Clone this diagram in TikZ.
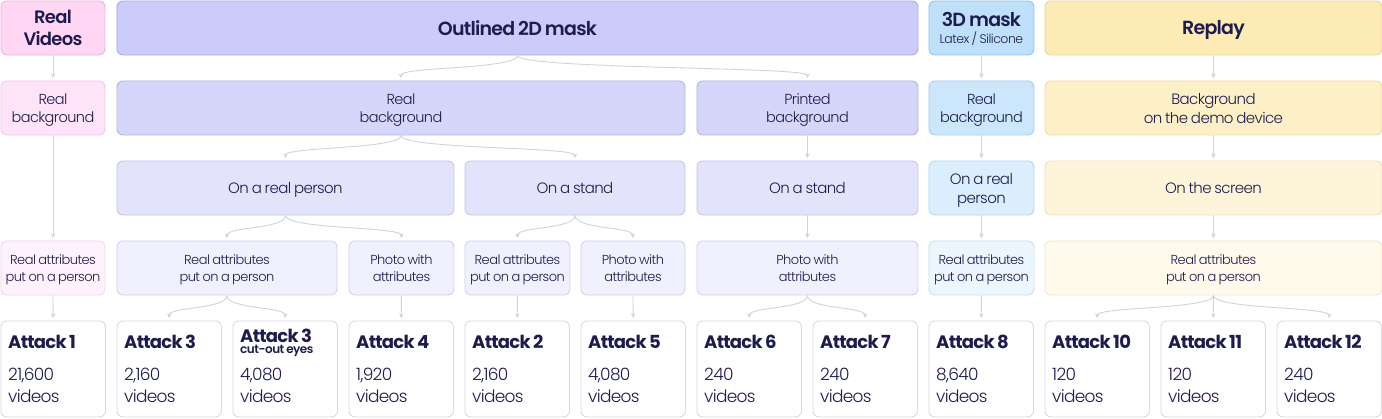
\documentclass[tikz,border=0pt]{standalone}
\usepackage{fontspec}
\setmainfont{Poppins Light}[LetterSpace=-4,WordSpace=0.8]
\newfontfamily\semib{Poppins SemiBold}[LetterSpace=-4,WordSpace=0.8]
\newfontfamily\boldf{Poppins Bold}[LetterSpace=-4,WordSpace=0.8]
\usetikzlibrary{arrows.meta}
\definecolor{ink}{HTML}{1C1C4E}
\definecolor{lineg}{HTML}{D2D2DD}
\definecolor{aboxd}{HTML}{DADAE3}
\definecolor{pinkA}{HTML}{FFD6F4}\definecolor{pinkAd}{HTML}{E5B6DA}
\definecolor{pinkB}{HTML}{FFE3F8}\definecolor{pinkBd}{HTML}{EEC9E6}
\definecolor{pinkD}{HTML}{FFF2FC}\definecolor{pinkDd}{HTML}{F0D8EB}
\definecolor{lavA}{HTML}{CCCCFA}\definecolor{lavAd}{HTML}{A9A9E3}
\definecolor{lavB}{HTML}{D6D6FB}\definecolor{lavBd}{HTML}{B4B4E6}
\definecolor{lavC}{HTML}{E3E3FC}\definecolor{lavCd}{HTML}{C4C4EA}
\definecolor{lavD}{HTML}{F0F0FE}\definecolor{lavDd}{HTML}{D2D2EE}
\definecolor{blueA}{HTML}{BFE0FB}\definecolor{blueAd}{HTML}{94C2EA}
\definecolor{blueB}{HTML}{CCE7FC}\definecolor{blueBd}{HTML}{A5CDEE}
\definecolor{blueC}{HTML}{DAEEFD}\definecolor{blueCd}{HTML}{B5D6F0}
\definecolor{blueD}{HTML}{EBF6FF}\definecolor{blueDd}{HTML}{C9E0F3}
\definecolor{yelA}{HTML}{FDEBB5}\definecolor{yelAd}{HTML}{EAD69F}
\definecolor{yelB}{HTML}{FDEFC6}\definecolor{yelBd}{HTML}{EEDCAE}
\definecolor{yelC}{HTML}{FEF4DA}\definecolor{yelCd}{HTML}{EFE1BD}
\definecolor{yelD}{HTML}{FFFAEC}\definecolor{yelDd}{HTML}{F1E7CC}
\tikzset{
  box/.style={rounded corners=6pt, line width=0.9pt, inner sep=0pt, anchor=north west, align=center, text=ink, text depth=0pt},
  abox/.style={box, fill=white, draw=aboxd},
  conn/.style={draw=lineg, line width=0.9pt, -{Stealth[length=4.5pt,width=4.5pt]}, shorten >=2.5pt},
  atitle/.style={text=ink, inner sep=0pt, anchor=base west, font=\boldf\fontsize{18}{20}\selectfont},
  anum/.style={text=ink, inner sep=0pt, anchor=base west, font=\fontsize{17}{20}\selectfont},
  fh/.style={font=\semib\fontsize{19}{22}\selectfont},
  f2/.style={font=\fontsize{14.5}{17.5}\selectfont},
  f3/.style={font=\fontsize{15}{19}\selectfont},
  f4/.style={font=\fontsize{13}{16.5}\selectfont},
}
\newcommand\bx[9]{\node[box,fill=#6,draw=#7,#8,minimum width=#4pt-1pt,minimum height=#5pt-1pt] (#1) at (#2.5,#3.5) {#9};}
\newcommand\atk[4]{%
  \node[abox,minimum width=104.5pt,minimum height=96pt] (#1) at (#2.5,320.5) {};
  \node[atitle] (#1t) at (#2+8,348) {#3};
  \node[anum] (#1n) at (#2+8,380) {#4};
  \node[anum] (#1v) at (#2+8,402) {videos};}
\begin{document}
\begin{tikzpicture}[x=1pt,y=-1pt]
\useasboundingbox[fill=white] (0,0) rectangle (1382,418);
% row 1
\bx{rv}{0}{0}{105}{55}{pinkA}{pinkAd}{font=\semib\fontsize{18}{21.5}\selectfont}{Real\\Videos}
\bx{o2d}{116}{0}{802}{55}{lavA}{lavAd}{fh}{Outlined 2D mask}
\bx{m3d}{928}{0}{106}{55}{blueA}{blueAd}{font=\semib\fontsize{19}{16.5}\selectfont}{3D mask\\{\normalfont\fontsize{12.5}{14}\selectfont Latex / Silicone}}
\bx{rep}{1044}{0}{338}{55}{yelA}{yelAd}{fh}{Replay}
% row 2
\bx{rbA}{0}{80}{105}{55}{pinkB}{pinkBd}{f2}{Real\\background}
\bx{rb2}{116}{80}{569}{55}{lavB}{lavBd}{f2}{Real\\background}
\bx{pb}{696}{80}{222}{55}{lavB}{lavBd}{f2}{Printed\\background}
\bx{rb3}{928}{80}{106}{55}{blueB}{blueBd}{f2}{Real\\background}
\bx{bg}{1044}{80}{338}{55}{yelB}{yelBd}{font=\fontsize{15}{19}\selectfont}{Background\\on the demo device}
% row 3
\bx{orp}{116}{160}{338}{55}{lavC}{lavCd}{f3}{On a real person}
\bx{os1}{464}{160}{221}{55}{lavC}{lavCd}{f3}{On a stand}
\bx{os2}{696}{160}{222}{55}{lavC}{lavCd}{f3}{On a stand}
\bx{orp3}{928}{160}{106}{55}{blueC}{blueCd}{f3}{On a real\\person}
\bx{scr}{1044}{160}{338}{55}{yelC}{yelCd}{f3}{On the screen}
% row 4
\bx{ra1}{0}{240}{105}{55}{pinkD}{pinkDd}{f4}{Real attributes\\put on a person}
\bx{ra2}{116}{240}{221}{55}{lavD}{lavDd}{f4}{Real attributes\\put on a person}
\bx{pw1}{348}{240}{106}{55}{lavD}{lavDd}{f4}{Photo with\\attributes}
\bx{ra3}{464}{240}{106}{55}{lavD}{lavDd}{f4}{Real attributes\\put on a person}
\bx{pw2}{580}{240}{105}{55}{lavD}{lavDd}{f4}{Photo with\\attributes}
\bx{pw3}{696}{240}{222}{55}{lavD}{lavDd}{f4}{Photo with\\attributes}
\bx{ra4}{928}{240}{106}{55}{blueD}{blueDd}{f4}{Real attributes\\put on a person}
\bx{ra5}{1044}{240}{338}{55}{yelD}{yelDd}{f4}{Real attributes\\put on a person}
% row 5
\atk{a1}{0}{Attack 1}{21,600}
\node[abox,minimum width=104.5pt,minimum height=96pt] (a3) at (116.5,320.5) {};
\node[atitle] (a3t) at (124,348) {Attack 3};
\node[anum] (a3n) at (124,380) {2,160};
\node[anum] (a3v) at (124,402) {videos};
\node[abox,minimum width=104.5pt,minimum height=96pt] (a3c) at (232.5,320.5) {};
\node[atitle] (a3ct) at (240,342) {Attack 3};
\node[atitle,font=\semib\fontsize{12}{13}\selectfont] (a3cs) at (240,353.5) {cut-out eyes};
\node[anum] (a3cn) at (240,380) {4,080};
\node[anum] (a3cv) at (240,402) {videos};
\atk{a4}{348}{Attack 4}{1,920}
\atk{a2}{464}{Attack 2}{2,160}
\atk{a5}{580}{Attack 5}{4,080}
\atk{a6}{696}{Attack 6}{240}
\atk{a7}{812}{Attack 7}{240}
\atk{a8}{928}{Attack 8}{8,640}
\atk{a10}{1044}{Attack 10}{120}
\atk{a11}{1160}{Attack 11}{120}
\atk{a12}{1276}{Attack 12}{240}
% connectors
\draw[conn] (rv.south) -- (rbA.north);
\draw[conn] (rbA.south) -- (ra1.north);
\draw[conn] (ra1.south) -- (a1.north);
\draw[conn] (o2d.south) .. controls +(0,14) and +(0,-14) .. (rb2.north);
\draw[conn] (o2d.south) .. controls +(0,14) and +(0,-14) .. (pb.north);
\draw[conn] (rb2.south) .. controls +(0,14) and +(0,-14) .. (orp.north);
\draw[conn] (rb2.south) .. controls +(0,14) and +(0,-14) .. (os1.north);
\draw[conn] (pb.south) -- (os2.north);
\draw[conn] (orp.south) .. controls +(0,14) and +(0,-14) .. (ra2.north);
\draw[conn] (orp.south) .. controls +(0,14) and +(0,-14) .. (pw1.north);
\draw[conn] (os1.south) .. controls +(0,14) and +(0,-14) .. (ra3.north);
\draw[conn] (os1.south) .. controls +(0,14) and +(0,-14) .. (pw2.north);
\draw[conn] (os2.south) -- (pw3.north);
\draw[conn] (ra2.south) .. controls +(0,14) and +(0,-14) .. (a3.north);
\draw[conn] (ra2.south) .. controls +(0,14) and +(0,-14) .. (a3c.north);
\draw[conn] (pw1.south) -- (a4.north);
\draw[conn] (ra3.south) -- (a2.north);
\draw[conn] (pw2.south) -- (a5.north);
\draw[conn] (pw3.south) .. controls +(0,14) and +(0,-14) .. (a6.north);
\draw[conn] (pw3.south) .. controls +(0,14) and +(0,-14) .. (a7.north);
\draw[conn] (m3d.south) -- (rb3.north);
\draw[conn] (rb3.south) -- (orp3.north);
\draw[conn] (orp3.south) -- (ra4.north);
\draw[conn] (ra4.south) -- (a8.north);
\draw[conn] (rep.south) -- (bg.north);
\draw[conn] (bg.south) -- (scr.north);
\draw[conn] (scr.south) -- (ra5.north);
\draw[conn] (ra5.south) .. controls +(0,14) and +(0,-14) .. (a10.north);
\draw[conn] (ra5.south) -- (a11.north);
\draw[conn] (ra5.south) .. controls +(0,14) and +(0,-14) .. (a12.north);
\end{tikzpicture}
\end{document}
